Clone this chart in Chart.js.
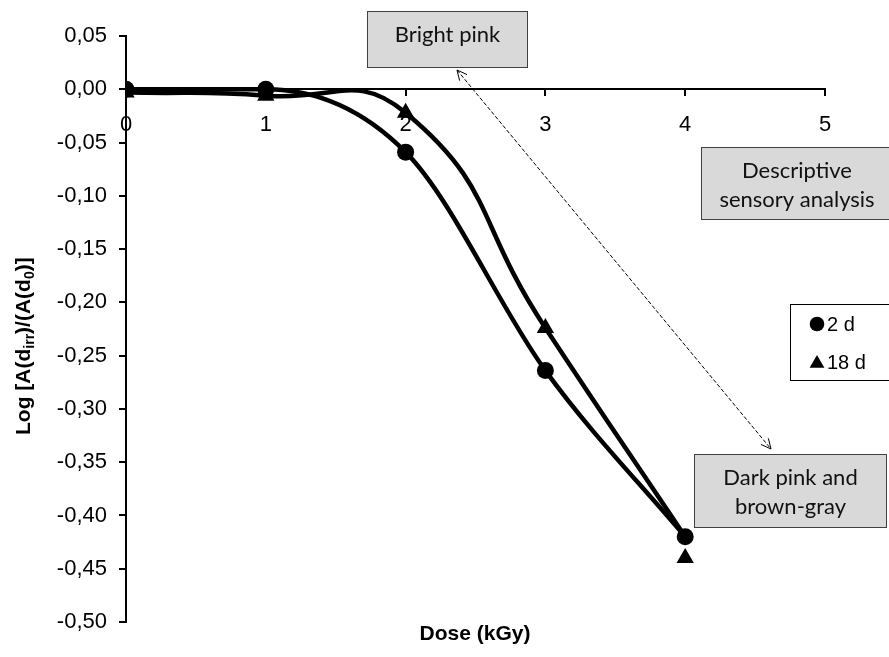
<!DOCTYPE html>
<html>
<head>
<meta charset="utf-8">
<script src="https://cdn.jsdelivr.net/npm/chart.js@4.4.1/dist/chart.umd.min.js"></script>
<style>
  html, body { margin: 0; padding: 0; background: #fff; }
</style>
</head>
<body>
<canvas id="chart" width="889" height="657"></canvas>
<script>
const doses = [0, 1, 2, 3, 4];
const values2d = [0.0, 0.0, -0.059, -0.264, -0.42];
const values18d = [-0.003, -0.006, -0.022, -0.224, -0.44];
// the smoothed 18 d curve ends on the 2 d point at 4 kGy
const curve18d = [-0.003, -0.006, -0.022, -0.224, -0.42];
const xTicks = [0, 1, 2, 3, 4, 5];
const yTicks = [0.05, 0, -0.05, -0.1, -0.15, -0.2, -0.25, -0.3, -0.35, -0.4, -0.45, -0.5];

const toPoints = (ys) => doses.map((x, i) => ({ x: x, y: ys[i] }));
const fmt = (v) => (Math.abs(v) < 1e-9 ? 0 : v).toFixed(2).replace('.', ',');

const tickFont = { family: "'Liberation Sans', Arial, sans-serif", size: 22 };
const boxFont = "22px Lato, 'Open Sans', sans-serif";

function drawBox(c, x, y, w, h, lines) {
  c.fillStyle = '#d9d9d9';
  c.fillRect(x, y, w, h);
  c.strokeStyle = '#404040';
  c.lineWidth = 1;
  c.strokeRect(x + 0.5, y + 0.5, w - 1, h - 1);
  c.fillStyle = '#111';
  c.font = boxFont;
  c.textAlign = 'center';
  c.textBaseline = 'middle';
  lines.forEach((t, i) => c.fillText(t, x + w / 2, y + 24 + i * 29));
}

function arrowHead(c, x, y, ang) {
  const len = 11, spread = 0.45;
  c.beginPath();
  c.moveTo(x + len * Math.cos(ang + spread), y + len * Math.sin(ang + spread));
  c.lineTo(x, y);
  c.lineTo(x + len * Math.cos(ang - spread), y + len * Math.sin(ang - spread));
  c.stroke();
}

const overlay = {
  id: 'overlay',
  afterDraw(chart) {
    const c = chart.ctx;
    c.save();

    // annotation boxes
    drawBox(c, 367, 11, 161, 57, ['Bright pink']);
    drawBox(c, 701, 147, 192, 73, ['Descriptive', 'sensory analysis']);
    drawBox(c, 694, 454, 193, 74, ['Dark pink and', 'brown-gray']);

    // dashed double arrow
    const x1 = 457, y1 = 70, x2 = 771, y2 = 449;
    c.strokeStyle = '#000';
    c.lineWidth = 1;
    c.setLineDash([4, 2]);
    c.beginPath();
    c.moveTo(x1, y1);
    c.lineTo(x2, y2);
    c.stroke();
    c.setLineDash([]);
    const ang = Math.atan2(y2 - y1, x2 - x1);
    arrowHead(c, x1, y1, ang);
    arrowHead(c, x2, y2, ang + Math.PI);

    // legend
    c.fillStyle = '#fff';
    c.fillRect(790, 304, 102, 77);
    c.strokeStyle = '#000';
    c.lineWidth = 1;
    c.strokeRect(790.5, 304.5, 102, 76);
    const items = chart.data.datasets.filter(d => d.label);
    c.font = "20px 'Liberation Sans', Arial, sans-serif";
    c.textAlign = 'left';
    c.textBaseline = 'middle';
    items.forEach((d, i) => {
      const ly = 324 + i * 38;
      c.fillStyle = '#000';
      Chart.helpers.drawPoint(c, {
        pointStyle: d.pointStyle, radius: d.pointStyle === 'triangle' ? 8.5 : 7.3,
        rotation: 0, borderWidth: 0
      }, 817, ly + (d.pointStyle === 'triangle' ? 1.5 : 0));
      c.fillStyle = '#000';
      c.fillText(d.label, 827, ly + 1);
    });

    // axis titles
    c.fillStyle = '#000';
    c.font = "bold 21px 'Liberation Sans', Arial, sans-serif";
    c.textAlign = 'center';
    c.textBaseline = 'middle';
    c.fillText('Dose (kGy)', 475, 634);

    c.save();
    c.translate(30, 435);
    c.rotate(-Math.PI / 2);
    c.textAlign = 'left';
    c.textBaseline = 'alphabetic';
    const big = "bold 21px 'Liberation Sans', Arial, sans-serif";
    const small = "bold 14px 'Liberation Sans', Arial, sans-serif";
    const parts = [['Log [A(d', big, 0], ['irr', small, 4], [')/(A(d', big, 0], ['0', small, 4], [')]', big, 0]];
    let px = 0;
    parts.forEach(([t, f, dy]) => {
      c.font = f;
      c.fillText(t, px, dy);
      px += c.measureText(t).width;
    });
    c.restore();

    c.restore();
  }
};

new Chart(document.getElementById('chart'), {
  type: 'scatter',
  data: {
    datasets: [
      {
        label: '2 d',
        data: toPoints(values2d),
        showLine: true,
        cubicInterpolationMode: 'monotone',
        borderColor: '#000',
        backgroundColor: '#000',
        borderWidth: 4.5,
        pointStyle: 'circle',
        pointRadius: 8.5,
        pointBorderWidth: 0,
        pointBackgroundColor: '#000'
      },
      {
        label: '18 d',
        data: toPoints(values18d),
        showLine: false,
        pointStyle: 'triangle',
        pointRadius: 10,
        pointBorderWidth: 0,
        pointBackgroundColor: '#000',
        backgroundColor: '#000',
        borderColor: '#000'
      },
      {
        label: '',
        data: toPoints(curve18d),
        showLine: true,
        tension: 0.5,
        borderColor: '#000',
        borderWidth: 4.5,
        pointRadius: 0
      }
    ]
  },
  options: {
    responsive: false,
    animation: false,
    devicePixelRatio: 1,
    layout: { padding: { left: 0, right: 64, top: 36, bottom: 35 } },
    plugins: {
      legend: { display: false },
      tooltip: { enabled: false }
    },
    scales: {
      x: {
        type: 'linear',
        min: 0,
        max: 5,
        position: { y: 0 },
        afterBuildTicks: (s) => { s.ticks = xTicks.map(v => ({ value: v })); },
        grid: { drawOnChartArea: false, drawTicks: true, tickLength: 6, tickColor: '#000', lineWidth: 2 },
        border: { color: '#000', width: 2 },
        ticks: { color: '#000', font: tickFont, padding: 16, maxRotation: 0, callback: (v) => String(v) }
      },
      y: {
        type: 'linear',
        min: -0.5,
        max: 0.05,
        afterFit: (s) => { s.width = 126; },
        afterBuildTicks: (s) => { s.ticks = yTicks.map(v => ({ value: v })); },
        grid: { drawOnChartArea: false, drawTicks: true, tickLength: 7, tickColor: '#000', lineWidth: 2 },
        border: { color: '#000', width: 2 },
        ticks: { color: '#000', font: tickFont, padding: 12, callback: (v) => fmt(v) }
      }
    }
  },
  plugins: [overlay]
});
</script>
</body>
</html>
